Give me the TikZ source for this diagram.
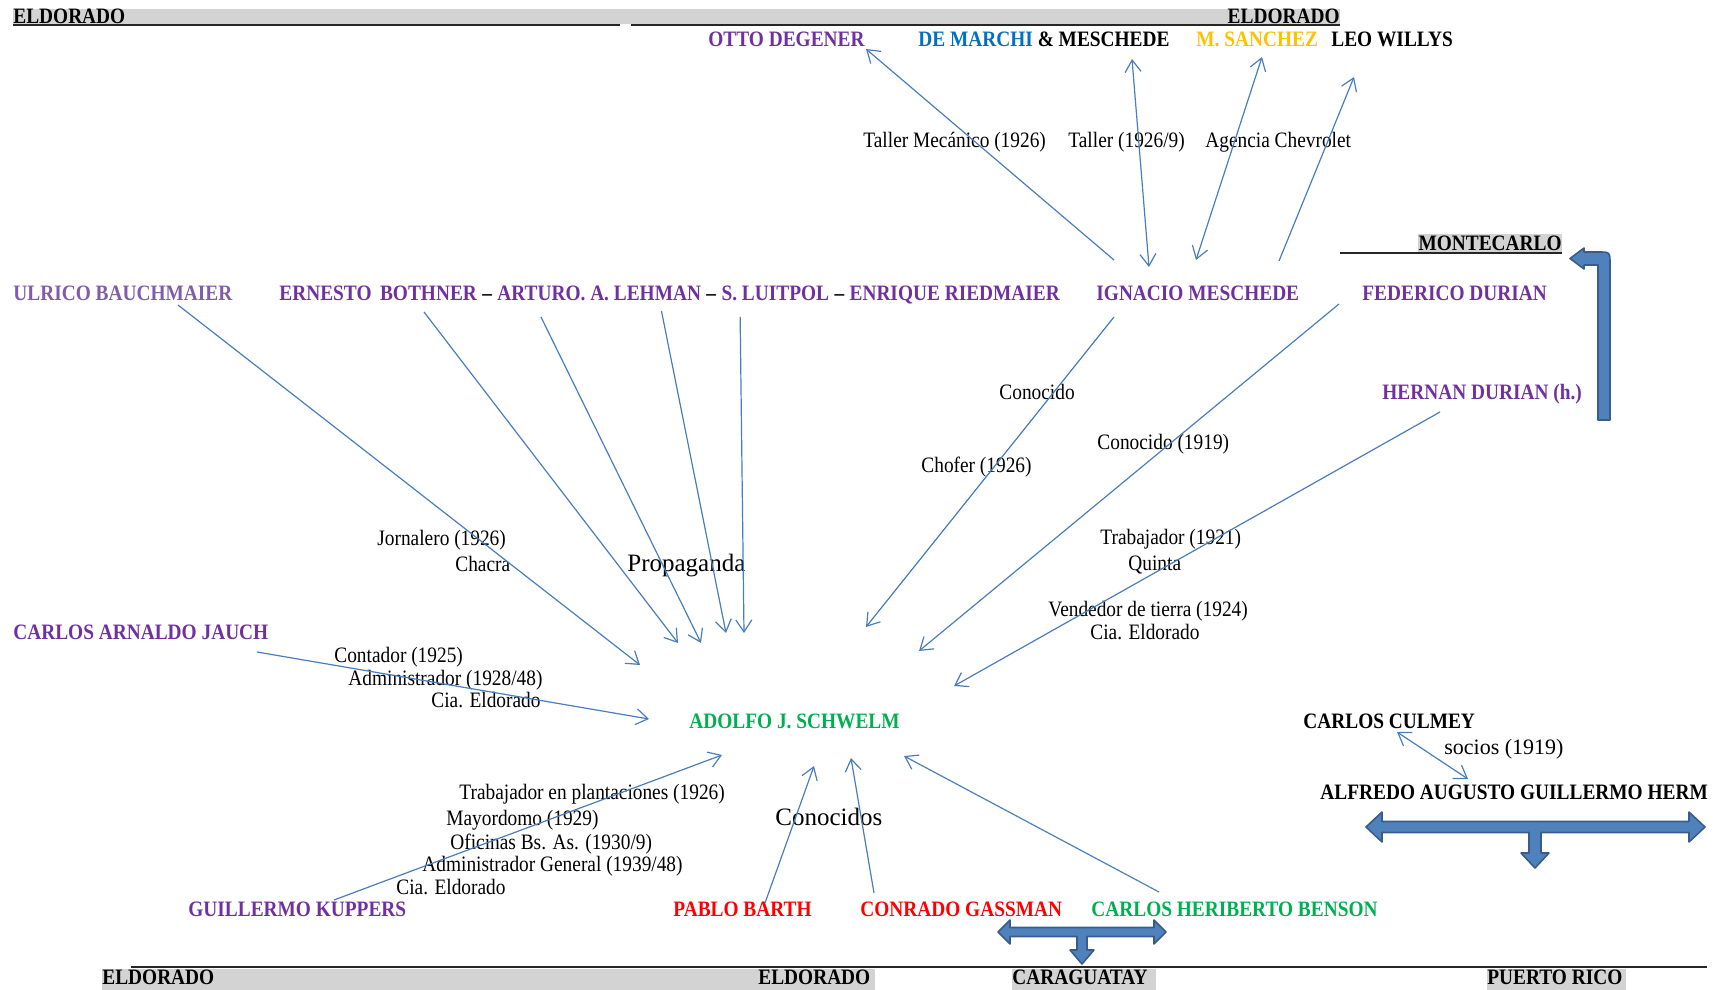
\documentclass[tikz,border=0pt]{standalone}
\usepackage{fontspec}
\setmainfont{Liberation Serif}[FakeStretch=0.88]
\newfontfamily\plainserif{Liberation Serif}
\usepackage{tikz}
\usetikzlibrary{arrows.meta, positioning, calc}
\definecolor{namepurple}{RGB}{112,48,160}
\definecolor{lightpurple}{RGB}{128,92,170}
\definecolor{marchiblue}{RGB}{0,112,192}
\definecolor{sanchezgold}{RGB}{255,192,0}
\definecolor{namegreen}{RGB}{0,176,80}
\definecolor{namered}{RGB}{255,0,0}
\definecolor{linkblue}{RGB}{74,126,187}
\definecolor{blockfill}{RGB}{79,129,189}
\definecolor{blockedge}{RGB}{56,93,138}
\definecolor{bandgray}{RGB}{211,211,211}

\begin{document}
\begin{tikzpicture}[
    x=0.5pt, y=-0.5pt,
    >={Straight Barb[length=6pt,width=8pt]},
    person/.style={anchor=west, inner sep=0pt, text height=7.3pt, text depth=0pt, font=\fontsize{11}{13}\selectfont\bfseries, text=namepurple},
    town/.style={person, text=black},
    lbl/.style={anchor=west, inner sep=0pt, text height=7.3pt, text depth=0pt, font=\fontsize{11}{13}\selectfont},
    bigtxt/.style={lbl, text height=8.3pt, font=\plainserif\fontsize{12.5}{15}\selectfont},
    arrow/.style={->, line width=0.6pt, linkblue},
    biarrow/.style={arrow, <->},
    band/.style={fill=bandgray},
    rule/.style={line width=0.9pt, black!85},
    blockarrow/.style={fill=blockfill, draw=blockedge, line width=0.8pt, line join=round},
]
\useasboundingbox (0,0) rectangle (1715,990);

% place bands
\fill[band] (13,9) rectangle (1340,24);
\draw[rule] (13,25) -- (620,25);
\draw[rule] (631,25) -- (1340,25);
\fill[band] (1418,234) rectangle (1562,252);
\draw[rule] (1340,253) -- (1562,253);
\fill[band] (102,969) rectangle (875,990);
\fill[band] (1012,969) rectangle (1156,990);
\fill[band] (1487,969) rectangle (1626,990);
\draw[rule] (131,967) -- (1707,967);

\node[town] (eldtop) at (13,16) {ELDORADO};
\node[town, anchor=east] (eldtopr) at (1340,16) {ELDORADO};
\node[town, anchor=east] (montecarlo) at (1562,243) {MONTECARLO};
\node[town] (eldbot) at (102,977) {ELDORADO};
\node[town] (eldbotr) at (758,977) {ELDORADO};
\node[town] (caraguatay) at (1012,977) {CARAGUATAY};
\node[town] (puertorico) at (1487,977) {PUERTO RICO};

% top row
\node[person] (otto) at (708,39) {OTTO DEGENER};
\node[person, text=black] (demarchi) at (918,39) {\textcolor{marchiblue}{DE MARCHI} \& MESCHEDE};
\node[person, text=sanchezgold] (sanchez) at (1196,39) {M. SANCHEZ};
\node[person, text=black] (leo) at (1331,39) {LEO WILLYS};
\node[lbl] (taller1) at (863,140) {Taller Mecánico (1926)};
\node[lbl] (taller2) at (1068,140) {Taller (1926/9)};
\node[lbl] (agencia) at (1205,140) {Agencia Chevrolet};

% middle row
\node[person, text=lightpurple] (ulrico) at (13,293) {ULRICO BAUCHMAIER};
\node[person] (bothner) at (279,293) {ERNESTO\, BOTHNER};
\node[person, text=black, right=2.3pt of bothner] (dash1) {--};
\node[person, right=2.3pt of dash1] (arturo) {ARTURO. A. LEHMAN};
\node[person, text=black, right=2.3pt of arturo] (dash2) {--};
\node[person, right=2.3pt of dash2] (luitpol) {S. LUITPOL};
\node[person, text=black, right=2.3pt of luitpol] (dash3) {--};
\node[person, right=2.3pt of dash3] (riedmaier) {ENRIQUE RIEDMAIER};
\node[person] (ignacio) at (1096,293) {IGNACIO MESCHEDE};
\node[person] (federico) at (1362,293) {FEDERICO DURIAN};
\node[person] (hernan) at (1382,392) {HERNAN DURIAN (h.)};

\node[lbl] (conocido) at (999,392) {Conocido};
\node[lbl] (conocidob) at (1097,442) {Conocido (1919)};
\node[lbl] (chofer) at (921,465) {Chofer (1926)};
\node[lbl] (jornalero) at (377,538) {Jornalero (1926)};
\node[lbl] (chacra) at (455,564) {Chacra};
\node[bigtxt] (propaganda) at (627,563) {Propaganda};
\node[lbl] (trabajador) at (1100,537) {Trabajador (1921)};
\node[lbl] (quinta) at (1128,563) {Quinta};
\node[lbl] (vendedor) at (1048,609) {Vendedor de tierra (1924)};
\node[lbl] (ciaright) at (1090,632) {Cia. Eldorado};

\node[person] (jauch) at (13,632) {CARLOS ARNALDO JAUCH};
\node[lbl] (contador) at (334,655) {Contador (1925)};
\node[lbl] (admin) at (348,678) {Administrador (1928/48)};
\node[lbl] (cialeft) at (431,700) {Cia. Eldorado};

% centre
\node[person, text=namegreen] (adolfo) at (689,721) {ADOLFO J. SCHWELM};
\node[person, text=black] (culmey) at (1303,721) {CARLOS CULMEY};
\node[lbl, font=\plainserif\fontsize{11}{13}\selectfont] (socios) at (1444,747) {socios (1919)};
\node[person, text=black] (alfredo) at (1320,792) {ALFREDO AUGUSTO GUILLERMO HERM};

% lower labels
\node[lbl] (plantaciones) at (459,792) {Trabajador en plantaciones (1926)};
\node[lbl] (mayordomo) at (446,818) {Mayordomo (1929)};
\node[lbl] (oficinas) at (450,842) {Oficinas Bs. As. (1930/9)};
\node[lbl] (admgeneral) at (422,864) {Administrador General (1939/48)};
\node[lbl] (ciabottom) at (396,887) {Cia. Eldorado};
\node[bigtxt] (conocidos) at (775,817) {Conocidos};

% bottom row
\node[person] (kuppers) at (188,909) {GUILLERMO KUPPERS};
\node[person, text=namered] (pablo) at (673,909) {PABLO BARTH};
\node[person, text=namered] (conrado) at (860,909) {CONRADO GASSMAN};
\node[person, text=namegreen] (benson) at (1091,909) {CARLOS HERIBERTO BENSON};

% links around Ignacio
\draw[arrow] ([shift={(18,-33)}]ignacio.west) -- ([shift={(158,10)}]otto.west);
\draw[biarrow] ([shift={(214,20)}]demarchi.west) -- ([shift={(53,-26)}]ignacio.west);
\draw[biarrow] ([shift={(66,18)}]sanchez.west) -- ([shift={(100,-33)}]ignacio.west);
\draw[arrow] ([shift={(183,-32)}]ignacio.west) -- ([shift={(23,38)}]leo.west);

% links into Adolfo
\draw[arrow] ([shift={(165,12)}]ulrico.west) -- ([shift={(-49,-56)}]adolfo.west);
\draw[arrow] ([shift={(145,19)}]bothner.west) -- ([shift={(-11,-78)}]adolfo.west);
\draw[arrow] ([shift={(44,24)}]arturo.west) -- ([shift={(12,-78)}]adolfo.west);
\draw[arrow] ([shift={(-40,18)}]arturo.east) -- ([shift={(37,-88)}]adolfo.west);
\draw[arrow] ([shift={(19,24)}]luitpol.west) -- ([shift={(55,-88)}]adolfo.west);
\draw[arrow] ([shift={(244,20)}]jauch.west) -- ([shift={(-40,-2)}]adolfo.west);
\draw[arrow] ([shift={(146,-9)}]kuppers.west) -- ([shift={(33,34)}]adolfo.west);
\draw[arrow] ([shift={(92,-6)}]pablo.west) -- ([shift={(125,45)}]adolfo.west);
\draw[arrow] ([shift={(14,-16)}]conrado.west) -- ([shift={(162,37)}]adolfo.west);
\draw[arrow] ([shift={(68,-17)}]benson.west) -- ([shift={(215,35)}]adolfo.west);
\draw[arrow] ([shift={(18,24)}]ignacio.west) -- ([shift={(177,-94)}]adolfo.west);
\draw[arrow] ([shift={(-23,11)}]federico.west) -- ([shift={(230,-70)}]adolfo.west);
\draw[arrow] ([shift={(58,20)}]hernan.west) -- ([shift={(265,-35)}]adolfo.west);
\draw[biarrow] ([shift={(94,11)}]culmey.west) -- ([shift={(148,-13)}]alfredo.west);

% block arrows
\draw[blockarrow] (1598,420) -- (1598,265) -- (1584,265) -- (1584,269) -- (1570,258.5) -- (1584,248) -- (1584,252) -- (1598,252) .. controls (1610,252) .. (1610,264) -- (1610,420) -- cycle;
\draw[blockarrow] (1366,827) -- (1382,812) -- (1382,821.5) -- (1689,821.5) -- (1689,812) -- (1705,827) -- (1689,842) -- (1689,832.5) -- (1541,832.5) -- (1541,853) -- (1549,853) -- (1535,868) -- (1521,853) -- (1529,853) -- (1529,832.5) -- (1382,832.5) -- (1382,842) -- cycle;
\draw[blockarrow] (998,932) -- (1010,920) -- (1010,927.5) -- (1154,927.5) -- (1154,920) -- (1166,932) -- (1154,944) -- (1154,936.5) -- (1087,936.5) -- (1087,950) -- (1094,950) -- (1082,964) -- (1070,950) -- (1077,950) -- (1077,936.5) -- (1010,936.5) -- (1010,944) -- cycle;
\end{tikzpicture}
\end{document}
